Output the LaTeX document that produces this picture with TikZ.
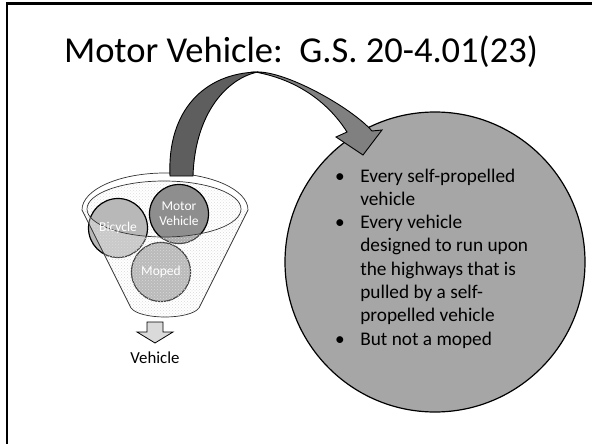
\documentclass[tikz,border=0pt]{standalone}
\usepackage{fontspec}
\setmainfont{Carlito}
\usetikzlibrary{patterns}
\definecolor{ribbondark}{HTML}{5E5E5E}
\definecolor{ribbonlight}{HTML}{808080}
\definecolor{discgray}{HTML}{A6A6A6}
\definecolor{bikegray}{HTML}{B8B8B8}
\definecolor{motorgray}{HTML}{8E8E8E}
\definecolor{mopedgray}{HTML}{A4A4A4}
\definecolor{arrowfill}{HTML}{DADADA}
\tikzset{
  ball/.style={circle, draw=black, line width=1.2pt, minimum size=59pt, inner sep=0pt},
  balltext/.style={text=white, align=center, font=\fontsize{13.5}{15}\selectfont},
  thinline/.style={draw=black!80, line width=0.7pt}
}
\begin{document}
\begin{tikzpicture}[x=1pt, y=-1pt]
    \fill[white] (0,0) rectangle (592,444);
    \useasboundingbox (0,0) rectangle (592,444);
    % slide frame
    \draw[line width=2.2pt] (7,446) -- (7,3.5) -- (594,3.5);
    \node[anchor=base, font=\fontsize{36.5}{40}\selectfont] (title) at (301,63) {Motor Vehicle:\ \ G.S. 20-4.01(23)};
    % funnel
    \path[fill=white] (82,210) arc[start angle=180, end angle=360, x radius=83, y radius=37]
        -- (199,308) .. controls (190,320) and (140,320) .. (131,308) -- cycle;
    \path[fill=white, pattern=crosshatch dots, pattern color=black!13] (164,209) ellipse[x radius=77, y radius=28];
    \node[ball, fill=bikegray] (bicycle) at (118,228) {};
    \node[ball, fill=motorgray] (motor) at (179,214) {};
    \node[ball, fill=mopedgray] (moped) at (161,272) {};
    \begin{scope}
        \clip (82,209) -- (248,209) -- (199,308) .. controls (190,320) and (140,320) .. (131,308) -- cycle;
        \fill[white, opacity=0.25, even odd rule] (60,200) rectangle (260,330) (164,209) ellipse[x radius=77, y radius=28];
        \fill[pattern=crosshatch dots, pattern color=white!85!black, even odd rule] (60,200) rectangle (260,330) (164,209) ellipse[x radius=77, y radius=28];
    \end{scope}
    \draw[thinline] (164,209) ellipse[x radius=77, y radius=28];
    \draw[thinline] (82,210) arc[start angle=180, end angle=360, x radius=83, y radius=37]
        -- (199,308) .. controls (190,320) and (140,320) .. (131,308) -- cycle;
    \node[balltext] (bikelabel) at (bicycle) {Bicycle};
    \node[balltext] (motorlabel) at (motor) {Motor\\Vehicle};
    \node[balltext] (mopedlabel) at (moped) {Moped};
    % definition disc
    \node[circle, minimum size=300pt, inner sep=0pt, fill=discgray, draw=black, line width=1.2pt] (defn) at (435,262) {};
    \node[anchor=base west, inner sep=0pt, font=\fontsize{19.3}{23.3}\selectfont] (rules) at (335,182) {%
        \begin{tabular}[t]{@{}l@{\hspace{15.5pt}}l@{}}
        \textbullet & Every self-propelled\\
                    & vehicle\\
        \textbullet & Every vehicle\\
                    & designed to run upon\\
                    & the highways that is\\
                    & pulled by a self-\\
                    & propelled vehicle\\
        \textbullet & But not a moped
        \end{tabular}};
    % curved arrow
    \filldraw[fill=ribbondark, draw=black, line width=0.9pt] (170,176) .. controls (167,110) and (205,73) .. (258,72)
        .. controls (228,78) and (195,112) .. (193,176) -- cycle;
    \filldraw[fill=ribbonlight, draw=black, line width=0.9pt] (255,72) .. controls (285,70) and (352,108) .. (372,131)
        -- (382,130) -- (363,155) -- (336,137) -- (347,132) .. controls (330,105) and (300,80) .. (255,72) -- cycle;
    % output arrow
    \filldraw[fill=arrowfill, draw=black, line width=0.8pt] (147,322) -- (163,322) -- (163,332) -- (173,332)
        -- (155,343) -- (137,332) -- (147,332) -- cycle;
    \node[anchor=base, font=\fontsize{16.8}{20}\selectfont] (vehicle) at (155,363) {Vehicle};
\end{tikzpicture}
\end{document}
